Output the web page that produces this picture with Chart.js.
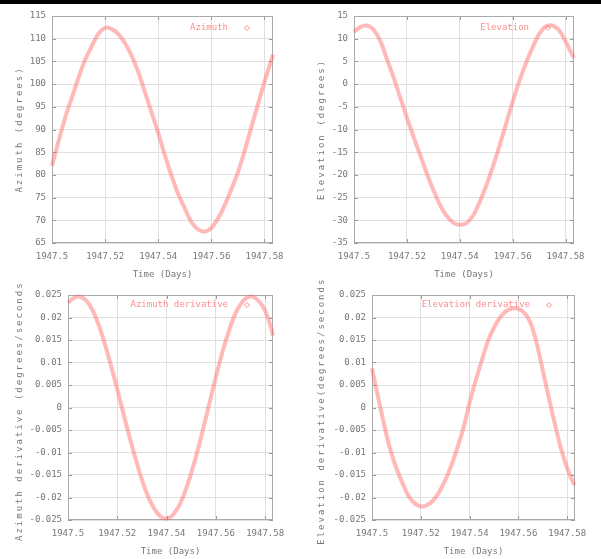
<!DOCTYPE html>
<html>
<head>
<meta charset="utf-8">
<script src="https://cdn.jsdelivr.net/npm/chart.js@4.4.1/dist/chart.umd.min.js"></script>
<style>
  body { margin: 0; background: #fff; }
  #bar { position: absolute; left: 0; top: 0; width: 601px; height: 4px; background: #000; }
  canvas { position: absolute; }
</style>
</head>
<body>
<div id="bar"></div>
<canvas id="az" width="300" height="280" style="left:0;top:0"></canvas>
<canvas id="el" width="301" height="280" style="left:300px;top:0"></canvas>
<canvas id="azd" width="300" height="279" style="left:0;top:280px"></canvas>
<canvas id="eld" width="301" height="279" style="left:300px;top:280px"></canvas>
<script>
// time axis (days)
const times = [1947.5, 1947.5025, 1947.505, 1947.5075, 1947.51, 1947.5125, 1947.515, 1947.5175,
  1947.52, 1947.5225, 1947.525, 1947.5275, 1947.53, 1947.5325, 1947.535, 1947.5375,
  1947.54, 1947.5425, 1947.545, 1947.5475, 1947.55, 1947.5525, 1947.555, 1947.5575,
  1947.56, 1947.5625, 1947.565, 1947.5675, 1947.57, 1947.5725, 1947.575, 1947.5775,
  1947.58, 1947.5825, 1947.5832];

// values
const azimuth = [82.0, 87.5, 92.7, 97.1, 101.4, 105.4, 108.4, 111.1, 112.4, 112.1, 111.0, 109.0,
  106.2, 102.6, 98.2, 93.7, 89.2, 84.3, 79.8, 75.8, 72.6, 69.6, 68.0, 67.5, 68.3, 70.4, 73.3,
  76.8, 80.6, 85.3, 90.4, 95.5, 100.5, 105.2, 106.5];
const elevation = [11.5, 12.6, 12.9, 11.9, 9.4, 5.4, 1.4, -3.0, -7.4, -11.6, -15.6, -19.6,
  -23.3, -26.6, -29.0, -30.5, -31.0, -30.6, -29.0, -26.0, -22.4, -18.2, -13.6, -8.75, -3.9,
  0.6, 4.6, 8.0, 11.0, 12.7, 12.9, 11.9, 9.4, 6.5, 5.8];
const azimuthRate = [0.0233, 0.0244, 0.0246, 0.0237, 0.0216, 0.0183, 0.0140, 0.0092, 0.0040,
  -0.0014, -0.0066, -0.0115, -0.0161, -0.0198, -0.0225, -0.0242, -0.0247, -0.0239, -0.0219,
  -0.0187, -0.0146, -0.0098, -0.0044, 0.0012, 0.0068, 0.0120, 0.0165, 0.0203, 0.0229, 0.0244,
  0.0246, 0.0236, 0.0215, 0.0175, 0.0160];
const elevationRate = [0.0087, 0.0023, -0.0039, -0.0094, -0.0135, -0.0168, -0.0197, -0.0213,
  -0.0220, -0.0217, -0.0207, -0.0188, -0.0162, -0.0129, -0.0089, -0.0045, 0.0011, 0.0060,
  0.0105, 0.0147, 0.0178, 0.0200, 0.0214, 0.0220, 0.0219, 0.0210, 0.0188, 0.0143, 0.0082,
  0.0021, -0.0038, -0.0092, -0.0135, -0.0167, -0.0172];

// tick labels
const xTicks = [1947.5, 1947.52, 1947.54, 1947.56, 1947.58];
const xTickLabels = ['1947.5', '1947.52', '1947.54', '1947.56', '1947.58'];
const azTicks = [65, 70, 75, 80, 85, 90, 95, 100, 105, 110, 115];
const elTicks = [-35, -30, -25, -20, -15, -10, -5, 0, 5, 10, 15];
const rateTicks = [-0.025, -0.02, -0.015, -0.01, -0.005, 0, 0.005, 0.01, 0.015, 0.02, 0.025];
const rateTickLabels = ['-0.025', '-0.02', '-0.015', '-0.01', '-0.005', '0', '0.005', '0.01', '0.015', '0.02', '0.025'];

const FONT = '"DejaVu Sans Mono", monospace';
const TEXT = '#777';
const PINK = '#ff8c8c';

// gnuplot-like frame, inner tick marks, key and spaced-out y title
const gnuFrame = {
  id: 'gnuFrame',
  beforeDatasetsDraw(chart, args, opts) {
    const {ctx, chartArea: a, scales} = chart;
    ctx.save();
    ctx.strokeStyle = '#999';
    ctx.lineWidth = 1;
    ctx.beginPath();
    scales.y.ticks.forEach(t => {
      const y = Math.round(scales.y.getPixelForValue(t.value)) + 0.5;
      ctx.moveTo(a.left, y); ctx.lineTo(a.left + 4, y);
      ctx.moveTo(a.right, y); ctx.lineTo(a.right - 4, y);
    });
    scales.x.ticks.forEach(t => {
      const x = Math.round(scales.x.getPixelForValue(t.value)) + 0.5;
      ctx.moveTo(x, a.top); ctx.lineTo(x, a.top + 4);
      ctx.moveTo(x, a.bottom); ctx.lineTo(x, a.bottom - 4);
    });
    ctx.stroke();
    ctx.strokeStyle = '#aaa';
    ctx.strokeRect(Math.round(a.left) + 0.5, Math.round(a.top) + 0.5,
      Math.round(a.right - a.left) - 1, Math.round(a.bottom - a.top) - 1);
    // key: text then diamond, top right inside the frame (the curve may cover it)
    const ky = a.top + opts.ky;
    ctx.font = '9px ' + FONT;
    ctx.fillStyle = PINK;
    ctx.textAlign = 'right';
    ctx.textBaseline = 'middle';
    ctx.fillText(chart.data.datasets[0].label, a.right - 45, ky);
    ctx.strokeStyle = PINK;
    const kx = a.right - 26;
    ctx.beginPath();
    ctx.moveTo(kx, ky - 2.5); ctx.lineTo(kx + 2.5, ky);
    ctx.lineTo(kx, ky + 2.5); ctx.lineTo(kx - 2.5, ky);
    ctx.closePath();
    ctx.stroke();
    ctx.restore();
  },
  afterDraw(chart, args, opts) {
    const {ctx, chartArea: a} = chart;
    ctx.save();
    ctx.translate(opts.x, (a.top + a.bottom) / 2);
    ctx.rotate(-Math.PI / 2);
    ctx.font = '9px ' + FONT;
    ctx.letterSpacing = '2px';
    ctx.textAlign = 'center';
    ctx.textBaseline = 'middle';
    ctx.fillStyle = TEXT;
    ctx.fillText(opts.text, 0, 0);
    ctx.restore();
  }
};

function makePanel(id, values, yTicks, yLabels, legendText, yTitle, g) {
  const ctx = document.getElementById(id).getContext('2d');
  return new Chart(ctx, {
    type: 'scatter',
    data: {
      datasets: [{
        label: legendText,
        data: times.map((t, i) => ({x: t, y: values[i]})),
        showLine: true,
        tension: 0.35,
        borderColor: 'rgba(255, 100, 100, 0.45)',
        borderWidth: 4,
        pointRadius: 0,
        clip: 3
      }]
    },
    options: {
      responsive: false,
      animation: false,
      layout: { padding: { left: 0, top: g.top, right: g.right, bottom: 0 } },
      scales: {
        x: {
          type: 'linear',
          min: 1947.5,
          max: 1947.5832,
          afterFit: s => { s.height = g.xh; },
          afterBuildTicks: s => { s.ticks = xTicks.map(v => ({value: v})); },
          grid: { color: '#e0e0e0', drawTicks: false },
          border: { display: false },
          ticks: {
            padding: 8,
            color: TEXT,
            font: { family: FONT, size: 9 },
            callback: (v, i) => xTickLabels[i]
          },
          title: {
            display: true,
            text: 'Time (Days)',
            color: TEXT,
            font: { family: FONT, size: 9 },
            padding: { top: 0, bottom: g.tb }
          }
        },
        y: {
          min: yTicks[0],
          max: yTicks[yTicks.length - 1],
          afterFit: s => { s.width = g.yw; },
          afterBuildTicks: s => { s.ticks = yTicks.map(v => ({value: v})); },
          grid: { color: '#e0e0e0', drawTicks: false },
          border: { display: false },
          ticks: {
            padding: 6,
            color: TEXT,
            font: { family: FONT, size: 9 },
            callback: (v, i) => yLabels[i]
          }
        }
      },
      plugins: {
        tooltip: { enabled: false },
        legend: { display: false },
        gnuFrame: { text: yTitle, x: g.tx, ky: g.ky }
      }
    },
    plugins: [gnuFrame]
  });
}

makePanel('az', azimuth, azTicks, azTicks.map(String), 'Azimuth', 'Azimuth (degrees)',
  { top: 16, right: 27, yw: 52, xh: 37, tb: 0, tx: 20, ky: 12 });
makePanel('el', elevation, elTicks, elTicks.map(String), 'Elevation', 'Elevation (degrees)',
  { top: 16, right: 27, yw: 54, xh: 37, tb: 0, tx: 22, ky: 12 });
makePanel('azd', azimuthRate, rateTicks, rateTickLabels, 'Azimuth derivative',
  'Azimuth derivative (degrees/seconds)',
  { top: 15, right: 27, yw: 68, xh: 39, tb: 2, tx: 20, ky: 10 });
makePanel('eld', elevationRate, rateTicks, rateTickLabels, 'Elevation derivative',
  'Elevation derivative(degrees/seconds)',
  { top: 15, right: 26, yw: 72, xh: 39, tb: 2, tx: 22, ky: 10 });
</script>
</body>
</html>
